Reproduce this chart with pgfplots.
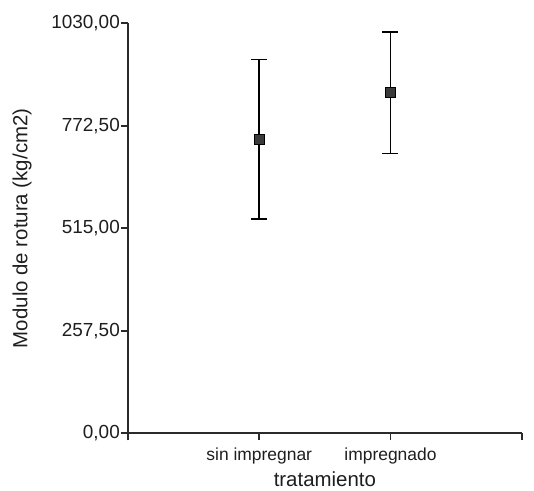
\documentclass[border=0pt]{standalone}
\usepackage{fontspec}
\setmainfont{Liberation Sans}
\usepackage{pgfplots}
\pgfplotsset{compat=1.18}
\definecolor{axgray}{HTML}{2A2A2A}
\definecolor{markgray}{HTML}{3A3A3A}
\definecolor{txt}{HTML}{1E1E1E}

\begin{document}
\fontsize{17.5}{20}\selectfont
\begin{tikzpicture}
\useasboundingbox (-128bp,-57.7bp) rectangle (406bp,433.3bp);
\begin{axis}[
    at={(0,0)}, anchor=south west,
    scale only axis,
    width=393.7bp, height=410bp,
    xmin=0, xmax=3,
    ymin=0, ymax=1030,
    axis lines=left,
    axis line style={-, axgray, line width=1.8bp},
    tick style={axgray, line width=1.8bp},
    tick align=outside,
    major tick length=7bp,
    xtick={0,1,2,3},
    xticklabels={,sin impregnar,impregnado,},
    ytick={0,257.5,515,772.5,1030},
    /pgf/number format/.cd, fixed, fixed zerofill, precision=2, use comma, 1000 sep={}, assume math mode=true,
    /pgfplots/.cd,
    yticklabel style={inner sep=1bp, text=txt, font=\fontsize{19}{21}\selectfont},
    xticklabel style={text=txt, yshift=-2bp},
    every axis y label/.style={at={(axis description cs:0,0.5)}, xshift=-106bp, rotate=90, anchor=center, text=txt, font=\fontsize{20.5}{23}\selectfont},
    every axis x label/.style={at={(axis description cs:0.5,0)}, yshift=-53bp, anchor=base, text=txt, font=\fontsize{20.5}{23}\selectfont},
    ylabel={Modulo de rotura (kg/cm2)},
    xlabel={tratamiento},
    clip=false,
]
\addplot[only marks, mark=square*, mark size=5bp,
    mark options={fill=markgray, draw=black, line width=0.6bp},
    error bars/.cd, y dir=both, y explicit,
    error bar style={black, line width=1.8bp},
    error mark options={rotate=90, mark size=8bp, black, line width=1.8bp}]
    coordinates {(1,739) +- (0,200) (2,856) +- (0,153)};
\end{axis}
\end{tikzpicture}
\end{document}
